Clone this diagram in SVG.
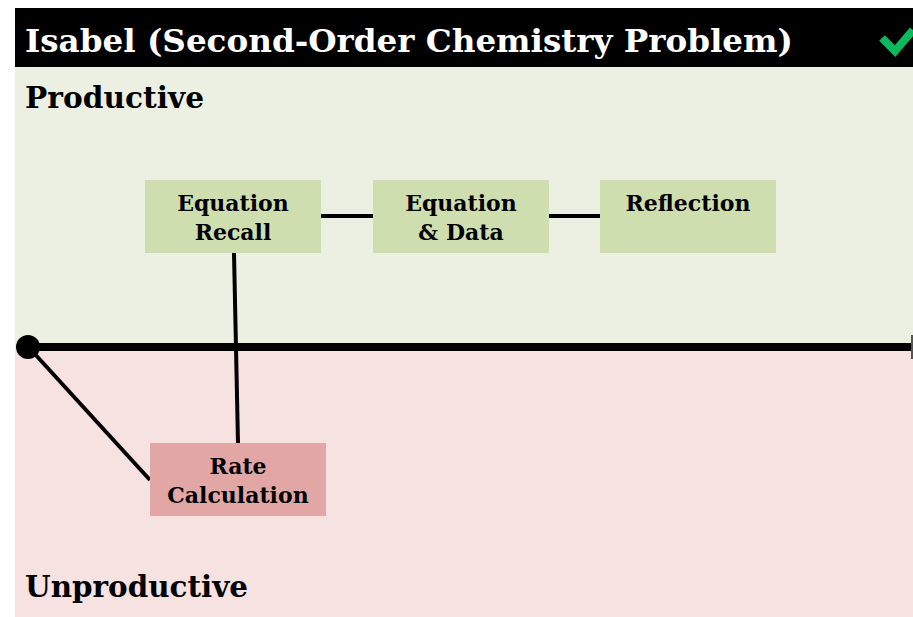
<svg xmlns="http://www.w3.org/2000/svg" width="913" height="617" viewBox="0 0 913 617">
<style>
.t{font-family:"DejaVu Serif","Liberation Serif",serif;font-weight:bold;fill:#000;}
.box{font-size:22px;text-anchor:middle;}
.ln{stroke:#000;stroke-width:4;fill:none;}
</style>
<rect x="0" y="0" width="913" height="617" fill="#fff"/>
<rect x="15" y="67" width="898" height="278" fill="#ECF0E2"/>
<rect x="15" y="345" width="898" height="272" fill="#F5E2E1"/>
<rect x="15" y="8" width="898" height="59" fill="#000"/>
<text class="t" x="25" y="52" font-size="32" style="fill:#fff" textLength="768" lengthAdjust="spacingAndGlyphs">Isabel (Second-Order Chemistry Problem)</text>
<path d="M882 38 L895 51 L913 30" stroke="#0CB95E" stroke-width="8" fill="none"/>
<text class="t" x="25" y="108" font-size="29" textLength="179" lengthAdjust="spacingAndGlyphs">Productive</text>
<text class="t" x="25" y="597" font-size="29" textLength="223" lengthAdjust="spacingAndGlyphs">Unproductive</text>
<g id="connectors">
<line x1="28" y1="347" x2="913" y2="347" style="stroke:#000;stroke-width:8"/>
<line x1="912" y1="335" x2="912" y2="359" style="stroke:#555;stroke-width:2"/>
<circle cx="28" cy="347" r="12" fill="#000"/>
<line class="ln" x1="321" y1="216" x2="373" y2="216"/>
<line class="ln" x1="549" y1="216" x2="600" y2="216"/>
<line class="ln" x1="234" y1="253" x2="238" y2="443"/>
<line class="ln" x1="33" y1="352" x2="150" y2="480"/>
</g>
<g id="equation-recall">
<rect x="145" y="180" width="176" height="73" fill="#CFDEAE"/>
<text class="t box" x="233" y="211">Equation</text>
<text class="t box" x="233" y="240">Recall</text>
</g>
<g id="equation-data">
<rect x="373" y="180" width="176" height="73" fill="#CFDEAE"/>
<text class="t box" x="461" y="211">Equation</text>
<text class="t box" x="461" y="240">&amp; Data</text>
</g>
<g id="reflection">
<rect x="600" y="180" width="176" height="73" fill="#CFDEAE"/>
<text class="t box" x="688" y="211">Reflection</text>
</g>
<g id="rate-calculation">
<rect x="150" y="443" width="176" height="73" fill="#E2A7A4"/>
<text class="t box" x="238" y="474">Rate</text>
<text class="t box" x="238" y="503">Calculation</text>
</g>
</svg>
